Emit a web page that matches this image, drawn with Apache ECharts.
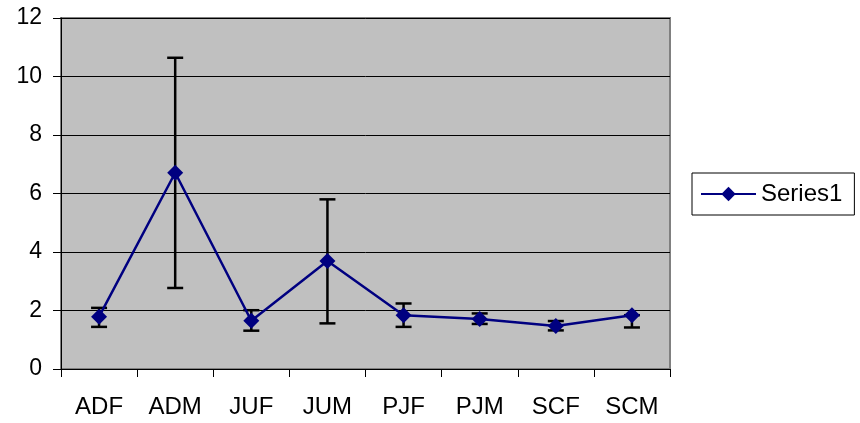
<!DOCTYPE html>
<html>
<head>
<meta charset="utf-8">
<script src="https://cdn.jsdelivr.net/npm/echarts@6/dist/echarts.min.js"></script>
<style>
html,body{margin:0;padding:0;background:#fff;}
#chart{width:860px;height:423px;}
</style>
</head>
<body>
<div id="chart"></div>
<script>
const categories = ['ADF','ADM','JUF','JUM','PJF','PJM','SCF','SCM'];
const values = [1.79, 6.71, 1.65, 3.69, 1.84, 1.71, 1.47, 1.84];
const errUpper = [2.09, 10.64, 2.01, 5.80, 2.24, 1.90, 1.64, 1.84];
const errLower = [1.44, 2.77, 1.31, 1.56, 1.44, 1.54, 1.32, 1.42];
const yTicks = [0, 2, 4, 6, 8, 10, 12];

const font = 'Liberation Sans, Arial, sans-serif';
const errData = categories.map((c, i) => [i, errLower[i], errUpper[i]]);

const chart = echarts.init(document.getElementById('chart'));
chart.setOption({
  animation: false,
  backgroundColor: '#ffffff',
  grid: {
    left: 61, top: 18, width: 609, height: 351,
    show: true, backgroundColor: '#c0c0c0', borderColor: '#808080', borderWidth: 2
  },
  legend: {
    left: 692, top: 173,
    padding: [9, 12, 9, 8],
    borderColor: '#000', borderWidth: 1,
    backgroundColor: '#fff',
    itemWidth: 55, itemHeight: 18,
    textStyle: { fontFamily: font, fontSize: 24, color: '#000' },
    data: ['Series1']
  },
  xAxis: {
    type: 'category',
    data: categories,
    boundaryGap: true,
    axisLine: { show: true, lineStyle: { color: '#000', width: 1 } },
    axisTick: { show: true, length: 8, inside: false, lineStyle: { color: '#000' } },
    axisLabel: { fontFamily: font, fontSize: 24, color: '#000', margin: 26 },
    splitLine: { show: false }
  },
  yAxis: {
    type: 'value',
    min: yTicks[0], max: yTicks[yTicks.length - 1], interval: 2,
    axisLine: { show: true, lineStyle: { color: '#000', width: 1 } },
    axisTick: { show: true, length: 8, lineStyle: { color: '#000' } },
    axisLabel: { fontFamily: font, fontSize: 23, color: '#000', margin: 19 },
    splitLine: { show: true, lineStyle: { color: '#000', width: 1 } }
  },
  series: [
    {
      type: 'custom',
      name: 'err',
      z: 1,
      data: errData,
      encode: { x: 0, y: [1, 2] },
      renderItem: function (params, api) {
        const x = api.value(0);
        const lo = api.coord([x, api.value(1)]);
        const hi = api.coord([x, api.value(2)]);
        const half = 8;
        const style = { stroke: '#000', lineWidth: 2.5, fill: null };
        return {
          type: 'group',
          children: [
            { type: 'line', shape: { x1: lo[0], y1: lo[1], x2: hi[0], y2: hi[1] }, style: style },
            { type: 'line', shape: { x1: lo[0] - half, y1: lo[1], x2: lo[0] + half, y2: lo[1] }, style: style },
            { type: 'line', shape: { x1: hi[0] - half, y1: hi[1], x2: hi[0] + half, y2: hi[1] }, style: style }
          ]
        };
      }
    },
    {
      type: 'line',
      name: 'Series1',
      z: 3,
      data: values,
      symbol: 'diamond',
      symbolSize: 16,
      itemStyle: { color: '#000080' },
      lineStyle: { color: '#000080', width: 2.5 }
    }
  ]
});
</script>
</body>
</html>
